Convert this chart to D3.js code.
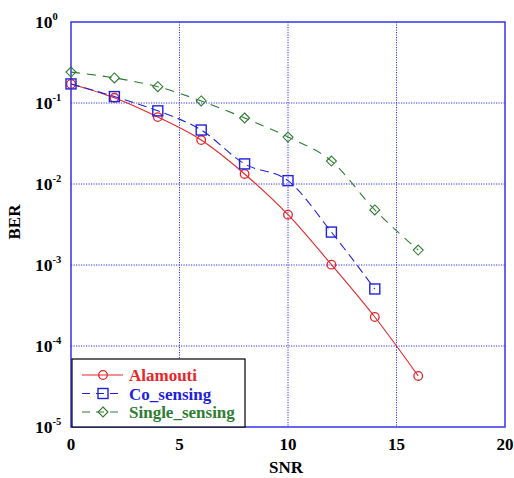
<!DOCTYPE html>
<meta charset="utf-8">
<style>
body { margin: 0; background: #fff; }
text { font-family: "Liberation Serif", "Times New Roman", serif; font-weight: bold; }
.grid line { stroke: #3333ee; stroke-width: 1; stroke-dasharray: 1.2 1.3; }
</style>
<svg width="514" height="478"></svg>
<script src="https://d3js.org/d3.v7.min.js"></script>
<script>

var snr = [0, 2, 4, 6, 8, 10, 12, 14, 16];
var alamouti = [0.172, 0.116, 0.067, 0.0349, 0.0133, 0.00418, 0.00101, 0.000228, 0.0000427];
var coSensing = [0.172, 0.12, 0.080, 0.0464, 0.0177, 0.011, 0.00255, 0.000506];
var singleSensing = [0.241, 0.204, 0.159, 0.106, 0.0653, 0.038, 0.0192, 0.00478, 0.00153];
var xTicks = [0, 5, 10, 15, 20];
var yExps = [0, -1, -2, -3, -4, -5];

var series = [
  { name: "Alamouti", values: alamouti, color: "#e8262a", dash: null, marker: "circle" },
  { name: "Co_sensing", values: coSensing, color: "#2222dd", dash: "9 5", marker: "square" },
  { name: "Single_sensing", values: singleSensing, color: "#2e7d32", dash: "9 7", marker: "diamond" }
];

var svg = d3.select("svg"),
    pl = 71, pr = 505, pt = 22, pb = 427;

var x = d3.scaleLinear().domain([0, 20]).range([pl, pr]);
var y = d3.scaleLog().domain([1e-5, 1]).range([pb, pt]);

// grid
var grid = svg.append("g").attr("class", "grid");
grid.selectAll(".gx").data(xTicks.slice(1, -1)).enter().append("line")
    .attr("x1", function(d) { return x(d); }).attr("x2", function(d) { return x(d); })
    .attr("y1", pt).attr("y2", pb);
grid.selectAll(".gy").data(yExps.slice(1, -1)).enter().append("line")
    .attr("x1", pl).attr("x2", pr)
    .attr("y1", function(d) { return y(Math.pow(10, d)); })
    .attr("y2", function(d) { return y(Math.pow(10, d)); });

// frame
svg.append("rect")
    .attr("x", pl).attr("y", pt)
    .attr("width", pr - pl).attr("height", pb - pt)
    .attr("fill", "none").attr("stroke", "#3333ee").attr("stroke-width", 1.5);

// x tick labels
svg.append("g").selectAll("text").data(xTicks).enter().append("text")
    .attr("x", function(d) { return x(d); })
    .attr("y", 450)
    .attr("text-anchor", "middle")
    .attr("font-size", 17)
    .text(function(d) { return d; });

// y tick labels
var yl = svg.append("g").selectAll("text").data(yExps).enter().append("text")
    .attr("x", 35)
    .attr("y", function(d) { return y(Math.pow(10, d)) + 6; })
    .attr("font-size", 17.5);
yl.append("tspan").text("10");
yl.append("tspan").attr("dy", -8).attr("font-size", 10.5).text(function(d) { return d; });

svg.append("text").attr("x", 286).attr("y", 473).attr("text-anchor", "middle")
    .attr("font-size", 17).text("SNR");
svg.append("text").attr("transform", "translate(20,222) rotate(-90)")
    .attr("text-anchor", "middle").attr("font-size", 17).text("BER");

var line = d3.line()
    .x(function(d, i) { return x(snr[i]); })
    .y(function(d) { return y(d); })
    .curve(d3.curveMonotoneX);

function drawMarker(g, type, cx, cy, color) {
  if (type === "circle") {
    g.append("circle").attr("cx", cx).attr("cy", cy).attr("r", 4.3)
        .attr("fill", "none").attr("stroke", color).attr("stroke-width", 1.3);
  } else if (type === "square") {
    g.append("rect").attr("x", cx - 5).attr("y", cy - 5).attr("width", 10).attr("height", 10)
        .attr("fill", "none").attr("stroke", color).attr("stroke-width", 1.4);
  } else {
    g.append("path").attr("d", "M" + cx + "," + (cy - 5) + "L" + (cx + 5) + "," + cy +
        "L" + cx + "," + (cy + 5) + "L" + (cx - 5) + "," + cy + "Z")
        .attr("fill", "none").attr("stroke", color).attr("stroke-width", 1.1);
  }
}

series.forEach(function(s) {
  var g = svg.append("g");
  g.append("path").attr("d", line(s.values))
      .attr("fill", "none").attr("stroke", s.color).attr("stroke-width", 1.1)
      .attr("stroke-dasharray", s.dash);
  s.values.forEach(function(v, i) { drawMarker(g, s.marker, x(snr[i]), y(v), s.color); });
});

// legend
var lg = svg.append("g");
lg.append("rect").attr("x", 72).attr("y", 359).attr("width", 173).attr("height", 68)
    .attr("fill", "#fff").attr("stroke", "#000").attr("stroke-width", 1.2);
series.forEach(function(s, i) {
  var ly = 375 + i * 18.5;
  lg.append("line").attr("x1", 82).attr("x2", 123).attr("y1", ly).attr("y2", ly)
      .attr("stroke", s.color).attr("stroke-width", 1.1)
      .attr("stroke-dasharray", s.dash ? "8 6" : null);
  drawMarker(lg, s.marker, 103, ly, s.color);
  lg.append("text").attr("x", 129).attr("y", ly + 6).attr("font-size", 17)
      .attr("fill", s.color).text(s.name);
});

</script>
